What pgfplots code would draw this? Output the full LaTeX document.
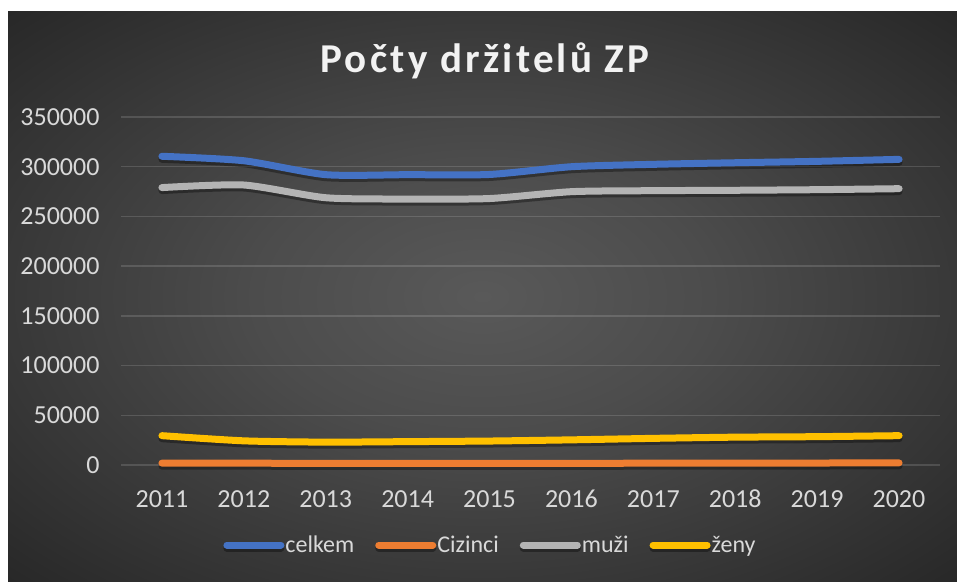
\documentclass[border=0pt]{standalone}
\usepackage{pgfplots}
\pgfplotsset{compat=1.18}
\usepackage{fontspec}
\setmainfont{Carlito}
\definecolor{bgc}{HTML}{595959}
\definecolor{bgm}{HTML}{4C4C4C}
\definecolor{bge}{HTML}{383838}
\definecolor{bgk}{HTML}{272727}
\definecolor{txt}{HTML}{D9D9D9}
\definecolor{cblue}{HTML}{4472C4}
\definecolor{corange}{HTML}{ED7D31}
\definecolor{cgray}{HTML}{B4B4B4}
\definecolor{cyellow}{HTML}{FFC000}
\pgfdeclareradialshading{bgshade}{\pgfpoint{0bp}{0bp}}{color(0bp)=(bgc); color(12bp)=(bgm); color(25bp)=(bge); color(36bp)=(bgk); color(50bp)=(bgk)}
\begin{document}
\begin{tikzpicture}[x=1pt,y=1pt]
\useasboundingbox (0,0) rectangle (957,581);
\fill[white] (0,0) rectangle (957,581);
\shade[shading=bgshade] (8,0) rectangle (957,569);
\node[anchor=base, text=white!95!black, inner sep=0pt] at (485,508)
  {\fontsize{41}{41}\selectfont\bfseries\addfontfeature{LetterSpace=8}Počty držitelů ZP};
\begin{axis}[
  at={(121pt,116pt)}, anchor=south west,
  scale only axis, width=819pt, height=348pt,
  xmin=2010.5, xmax=2020.5, ymin=0, ymax=350000,
  xtick={2011,2012,...,2020},
  ytick={0,50000,...,350000},
  scaled y ticks=false,
  scaled x ticks=false,
  xticklabels={2011,2012,2013,2014,2015,2016,2017,2018,2019,2020},
  yticklabels={0,50000,100000,150000,200000,250000,300000,350000},
  axis line style={draw=none},
  tick style={draw=none},
  ymajorgrids,
  grid style={white, opacity=0.14, line width=1.3pt},
  tick label style={font=\fontsize{26}{26}\selectfont, text=txt},
  yticklabel style={xshift=-18pt},
  xticklabel style={anchor=base, yshift=-42pt},
  clip=false,
  every axis plot/.append style={line width=7pt, line cap=round, line join=round, smooth, tension=0.4,
     preaction={draw=black, opacity=0.35, transform canvas={shift={(0pt,-3pt)}}}},
  legend columns=4,
  legend style={at={(0.4505,-0.23)}, anchor=center, draw=none, fill=none,
    font=\fontsize{24}{24}\selectfont, text=txt,
    /tikz/every even column/.append style={column sep=20pt},
    nodes={inner sep=1pt}},
  legend image code/.code={\draw[#1] (0pt,0pt) -- (54pt,0pt);},
]
\addplot[cblue] coordinates {(2011,310500) (2012,306000) (2013,292000) (2014,292000) (2015,292200) (2016,300000) (2017,302400) (2018,304000) (2019,305400) (2020,307400)};
\addlegendentry{celkem}
\addplot[corange] coordinates {(2011,1900) (2012,1800) (2013,1700) (2014,1700) (2015,1600) (2016,1700) (2017,1800) (2018,1900) (2019,2000) (2020,2100)};
\addlegendentry{Cizinci}
\addplot[cgray] coordinates {(2011,279000) (2012,281600) (2013,268800) (2014,267500) (2015,268000) (2016,274900) (2017,275900) (2018,276300) (2019,276900) (2020,277900)};
\addlegendentry{muži}
\addplot[cyellow] coordinates {(2011,29500) (2012,24300) (2013,23000) (2014,23500) (2015,24100) (2016,25300) (2017,26800) (2018,28000) (2019,28500) (2020,29500)};
\addlegendentry{ženy}
\end{axis}
\end{tikzpicture}
\end{document}
